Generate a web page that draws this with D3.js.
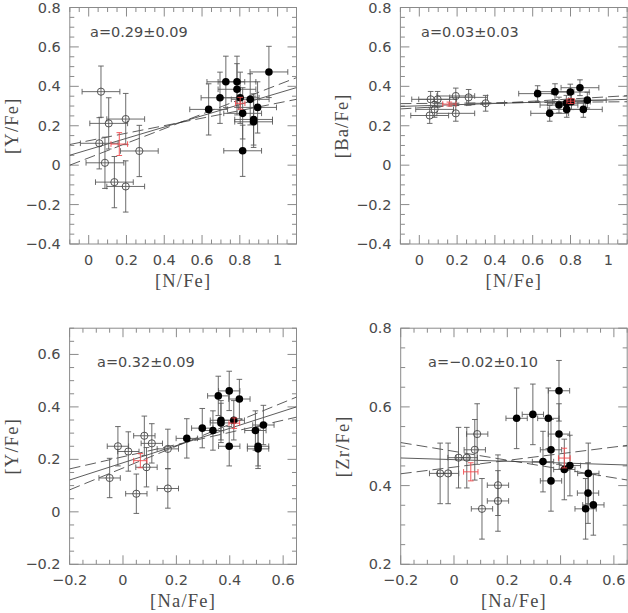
<!DOCTYPE html>
<html>
<head>
<meta charset="utf-8">
<script src="https://cdn.jsdelivr.net/npm/d3@7"></script>
<style>
  body { margin: 0; background: #fff; }
  svg { display: block; }
</style>
</head>
<body>
<div id="chart"></div>
<script>
// ---
// Data
// ---
// [N/Fe] vs [Y/Fe]
const nYOpen = [[0.065, 0.373], [0.106, 0.212], [0.196, 0.234], [0.056, 0.111], [0.268, 0.072], [0.086, 0.012], [0.136, -0.086], [0.196, -0.108]]
const nYFilled = [[0.635, 0.283], [0.695, 0.342], [0.726, 0.423], [0.785, 0.423], [0.785, 0.385], [0.802, 0.342], [0.815, 0.263], [0.855, 0.334], [0.873, 0.232], [0.873, 0.220], [0.894, 0.293], [0.954, 0.473], [0.815, 0.073]]
const nYErr = [0.1, 0.13]
const nYMeans = [[0.162, 0.107, 0.044, 0.058], [0.802, 0.314, 0.025, 0.03]]
const nYFits = [[0.079, 0.286], [0.124, 0.191], [0.037, 0.37]]

// [N/Fe] vs [Ba/Fe]
const nBaOpen = [[0.060, 0.334], [0.097, 0.334], [0.081, 0.283], [0.055, 0.252], [0.193, 0.351], [0.193, 0.263], [0.261, 0.344], [0.351, 0.314]]
const nBaFilled = [[0.626, 0.363], [0.718, 0.373], [0.799, 0.371], [0.850, 0.393], [0.889, 0.330], [0.739, 0.305], [0.780, 0.283], [0.690, 0.263], [0.868, 0.283], [0.778, 0.314], [0.805, 0.322]]
const nBaErr = [0.1, 0.04]
const nBaMeans = [[0.159, 0.31, 0.035, 0.01], [0.801, 0.325, 0.02, 0.012]]
const nBaFits = [[0.301, 0.03], [0.313, 0.008], [0.291, 0.056]]

// [Na/Fe] vs [Y/Fe]
const naYOpen = [[-0.050, 0.129], [-0.019, 0.250], [0.020, 0.230], [0.080, 0.290], [0.108, 0.261], [0.088, 0.170], [0.050, 0.069], [0.168, 0.240], [0.168, 0.089]]
const naYFilled = [[0.239, 0.280], [0.297, 0.319], [0.337, 0.310], [0.357, 0.442], [0.367, 0.349], [0.367, 0.339], [0.398, 0.461], [0.436, 0.430], [0.398, 0.250], [0.415, 0.349], [0.496, 0.310], [0.526, 0.331], [0.506, 0.250], [0.506, 0.240]]
const naYErr = [0.04, 0.075]
const naYMeans = [[0.065, 0.195, 0.025, 0.027], [0.417, 0.338, 0.02, 0.02]]
const naYFits = [[0.187, 0.328], [0.210, 0.232], [0.167, 0.416]]

// [Na/Fe] vs [Zr/Fe]
const naZrOpen = [[-0.052, 0.431], [-0.022, 0.431], [0.017, 0.471], [0.048, 0.471], [0.078, 0.491], [0.087, 0.531], [0.105, 0.341], [0.165, 0.401], [0.165, 0.361]]
const naZrFilled = [[0.235, 0.571], [0.296, 0.581], [0.354, 0.571], [0.394, 0.641], [0.394, 0.531], [0.364, 0.491], [0.334, 0.461], [0.364, 0.412], [0.414, 0.441], [0.435, 0.451], [0.504, 0.431], [0.503, 0.381], [0.494, 0.341], [0.523, 0.351]]
const naZrErr = [0.04, 0.077]
const naZrMeans = [[0.063, 0.435, 0.027, 0.023], [0.414, 0.47, 0.022, 0.025]]
const naZrFits = [[0.466, -0.021], [0.487, -0.112], [0.447, 0.085]]

const panels = [
  { xDomain: [-0.1, 1.1], yDomain: [-0.4, 0.8], xRange: [69.8, 296.5], yRange: [244, 7.5],
    xLabel: '[N/Fe]', yLabel: '[Y/Fe]', note: 'a=0.29\u00b10.09', notePos: [90, 37],
    open: nYOpen, filled: nYFilled, err: nYErr, means: nYMeans, fits: nYFits },
  { xDomain: [-0.1, 1.1], yDomain: [-0.4, 0.8], xRange: [400.4, 627.2], yRange: [244, 7.5],
    xLabel: '[N/Fe]', yLabel: '[Ba/Fe]', note: 'a=0.03\u00b10.03', notePos: [421, 37],
    open: nBaOpen, filled: nBaFilled, err: nBaErr, means: nBaMeans, fits: nBaFits },
  { xDomain: [-0.2, 0.65], yDomain: [-0.2, 0.7], xRange: [69.6, 296.5], yRange: [564.3, 328.2],
    xLabel: '[Na/Fe]', yLabel: '[Y/Fe]', note: 'a=0.32\u00b10.09', notePos: [97, 367],
    open: naYOpen, filled: naYFilled, err: naYErr, means: naYMeans, fits: naYFits },
  { xDomain: [-0.2, 0.65], yDomain: [0.2, 0.8], xRange: [400.7, 627.2], yRange: [564.3, 328.2],
    xLabel: '[Na/Fe]', yLabel: '[Zr/Fe]', note: 'a=\u22120.02\u00b10.10', notePos: [428, 367],
    open: naZrOpen, filled: naZrFilled, err: naZrErr, means: naZrMeans, fits: naZrFits }
]

// ---
// Chart
// ---
const svg = d3.select('#chart').append('svg')
    .attr('width', 628)
    .attr('height', 613)

const frameColor = '#8a8a8a'
const textColor = '#4a4a4a'
const barColor = '#5a5a5a'
const red = '#f0484c'

const fmt = d => {
  if (Math.abs(d) < 1e-9) return '0'
  if (Math.abs(Math.abs(d) - 1) < 1e-9) return d3.format('d')(d)
  return d3.format('.1f')(d)
}

const isMajor = v => Math.abs(v / 0.2 - Math.round(v / 0.2)) < 1e-6

function minorRange (dom) {
  const start = Math.ceil(dom[0] / 0.05 - 1e-6) * 0.05
  return d3.range(start, dom[1] + 1e-6, 0.05).map(v => Math.round(v * 1000) / 1000)
}

panels.forEach((p, i) => {
  const x = d3.scaleLinear().domain(p.xDomain).range(p.xRange)
  const y = d3.scaleLinear().domain(p.yDomain).range(p.yRange)
  const [x0, x1] = p.xRange
  const [y0, y1] = p.yRange
  const g = svg.append('g')

  const clipId = 'clip' + i
  g.append('clipPath').attr('id', clipId)
    .append('rect')
      .attr('x', x0).attr('y', y1)
      .attr('width', x1 - x0).attr('height', y0 - y1)

  // Ticks (inward, all four sides)
  const xt = minorRange(p.xDomain)
  const yt = minorRange(p.yDomain)
  const ticks = g.append('g')
      .attr('stroke', frameColor)
      .attr('stroke-width', 1)

  xt.forEach(v => {
    const len = isMajor(v) ? 9 : 4.5
    ticks.append('line').attr('x1', x(v)).attr('x2', x(v)).attr('y1', y0).attr('y2', y0 - len)
    ticks.append('line').attr('x1', x(v)).attr('x2', x(v)).attr('y1', y1).attr('y2', y1 + len)
  })
  yt.forEach(v => {
    const len = isMajor(v) ? 9 : 4.5
    ticks.append('line').attr('y1', y(v)).attr('y2', y(v)).attr('x1', x0).attr('x2', x0 + len)
    ticks.append('line').attr('y1', y(v)).attr('y2', y(v)).attr('x1', x1).attr('x2', x1 - len)
  })

  g.append('rect')
      .attr('x', x0).attr('y', y1)
      .attr('width', x1 - x0).attr('height', y0 - y1)
      .attr('fill', 'none')
      .attr('stroke', frameColor)
      .attr('stroke-width', 1)

  // Tick labels
  g.append('g').selectAll('text')
      .data(xt.filter(isMajor))
    .enter().append('text')
      .attr('x', d => x(d))
      .attr('y', y0 + 21)
      .attr('text-anchor', 'middle')
      .attr('font-family', 'DejaVu Sans, sans-serif')
      .attr('font-size', 14.5)
      .attr('fill', textColor)
      .text(fmt)

  g.append('g').selectAll('text')
      .data(yt.filter(isMajor))
    .enter().append('text')
      .attr('x', x0 - 9)
      .attr('y', d => y(d) + 5)
      .attr('text-anchor', 'end')
      .attr('font-family', 'DejaVu Sans, sans-serif')
      .attr('font-size', 14.5)
      .attr('fill', textColor)
      .text(fmt)

  // Axis titles
  g.append('text')
      .attr('x', (x0 + x1) / 2)
      .attr('y', y0 + 43)
      .attr('text-anchor', 'middle')
      .attr('font-family', 'Liberation Serif, serif')
      .attr('font-size', 18.5)
      .attr('letter-spacing', 1.2)
      .attr('fill', textColor)
      .text(p.xLabel)

  g.append('text')
      .attr('transform', `translate(${x0 - 52}, ${(y0 + y1) / 2}) rotate(-90)`)
      .attr('text-anchor', 'middle')
      .attr('font-family', 'Liberation Serif, serif')
      .attr('font-size', 18.5)
      .attr('letter-spacing', 1.2)
      .attr('fill', textColor)
      .text(p.yLabel)

  g.append('text')
      .attr('x', p.notePos[0])
      .attr('y', p.notePos[1])
      .attr('font-family', 'DejaVu Sans, sans-serif')
      .attr('font-size', 14.5)
      .attr('fill', textColor)
      .text(p.note)

  const plot = g.append('g').attr('clip-path', `url(#${clipId})`)

  // Fit lines
  p.fits.forEach((f, k) => {
    plot.append('line')
        .attr('x1', x(p.xDomain[0])).attr('y1', y(f[0] + f[1] * p.xDomain[0]))
        .attr('x2', x(p.xDomain[1])).attr('y2', y(f[0] + f[1] * p.xDomain[1]))
        .attr('stroke', '#333')
        .attr('stroke-width', 0.8)
        .attr('stroke-dasharray', k === 0 ? null : '11,5')
  })

  // Error bars
  const drawBars = (sel, pts, ex, ey, color, cap) => {
    pts.forEach(d => {
      const ax = d[2] !== undefined ? d[2] : ex
      const ay = d[3] !== undefined ? d[3] : ey
      const cx = x(d[0])
      const cy = y(d[1])
      const bar = sel.append('g').attr('stroke', color).attr('stroke-width', 0.9)
      bar.append('line').attr('x1', x(d[0] - ax)).attr('x2', x(d[0] + ax)).attr('y1', cy).attr('y2', cy)
      bar.append('line').attr('x1', cx).attr('x2', cx).attr('y1', y(d[1] - ay)).attr('y2', y(d[1] + ay))
      bar.append('line').attr('x1', x(d[0] - ax)).attr('x2', x(d[0] - ax)).attr('y1', cy - cap).attr('y2', cy + cap)
      bar.append('line').attr('x1', x(d[0] + ax)).attr('x2', x(d[0] + ax)).attr('y1', cy - cap).attr('y2', cy + cap)
      bar.append('line').attr('x1', cx - cap).attr('x2', cx + cap).attr('y1', y(d[1] - ay)).attr('y2', y(d[1] - ay))
      bar.append('line').attr('x1', cx - cap).attr('x2', cx + cap).attr('y1', y(d[1] + ay)).attr('y2', y(d[1] + ay))
    })
  }

  drawBars(plot, p.open, p.err[0], p.err[1], barColor, 2.8)
  drawBars(plot, p.filled, p.err[0], p.err[1], barColor, 2.8)

  // Points
  plot.selectAll('circle.open')
      .data(p.open)
    .enter().append('circle')
      .attr('class', 'open')
      .attr('cx', d => x(d[0]))
      .attr('cy', d => y(d[1]))
      .attr('r', 3.6)
      .attr('fill', 'none')
      .attr('stroke', '#444')
      .attr('stroke-width', 0.9)

  plot.selectAll('circle.filled')
      .data(p.filled)
    .enter().append('circle')
      .attr('class', 'filled')
      .attr('cx', d => x(d[0]))
      .attr('cy', d => y(d[1]))
      .attr('r', 3.8)
      .attr('fill', '#000')

  // Group means
  drawBars(plot, p.means, 0, 0, red, 2.8)
})
</script>
</body>
</html>
